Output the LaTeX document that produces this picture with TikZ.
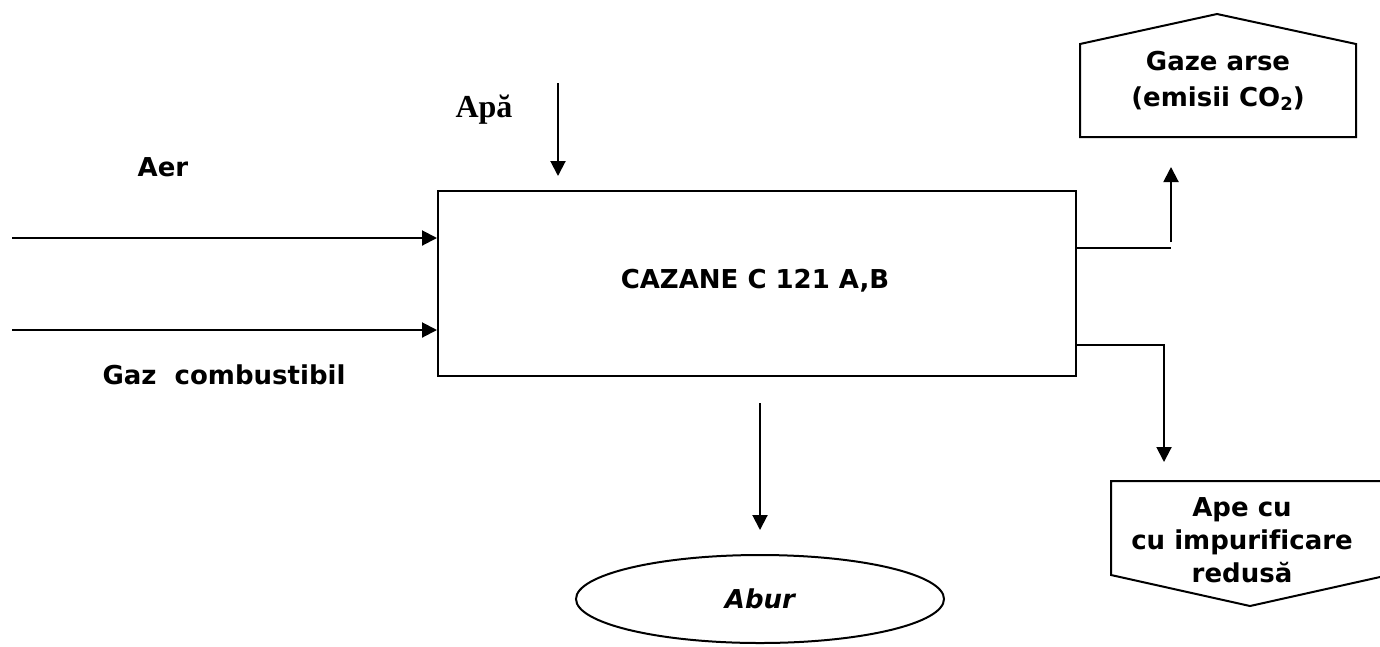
\documentclass[tikz,border=0pt]{standalone}
\usepackage{fontspec}
\setmainfont{DejaVu Sans}[Ligatures=NoCommon]
\newfontfamily\apafont{Liberation Serif}
\usetikzlibrary{arrows.meta,shapes.geometric}

\begin{document}
\begin{tikzpicture}[x=1pt,y=-1pt,line width=2pt,
  flow/.style={-{Triangle[length=15pt,width=15pt]}},
  lbl/.style={font=\fontsize{26}{33}\selectfont\bfseries,inner sep=0pt,align=center},
  unit/.style={draw,minimum width=638pt,minimum height=185pt,anchor=north west,inner sep=0pt},
  outshape/.style={draw,line join=miter}]
\useasboundingbox (0,0) rectangle (1380,646);

% boiler block
\node[unit] (caz) at (437,190) {};
\node[lbl] (cazlbl) at (755,281) {CAZANE C 121 A,B};

% inputs
\node[lbl] (aer) at (163,167) {Aer};
\node[lbl] (gaz) at (224,375) {Gaz\ \ combustibil};
\node[inner sep=0pt,font=\apafont\fontsize{32}{34}\selectfont\bfseries] (apa) at (484,110) {Apă};
\coordinate (aerin) at (12,238);
\coordinate (gazin) at (12,330);
\coordinate (apain) at (558,83);
\coordinate (apatip) at (558,176);
\draw[flow] (aerin) -- (aerin -| caz.west);
\draw[flow] (gazin) -- (gazin -| caz.west);
\draw[flow] (apain) -- (apatip);

% flue gases
\coordinate (g1) at (1077,248);
\coordinate (g2) at (1171,248);
\coordinate (g3) at (1171,242);
\coordinate (g4) at (1171,167);
\draw (g1) -- (g2);
\draw[flow] (g3) -- (g4);
\draw[outshape] (1080,137) -- (1080,44) -- (1217,14) -- (1356,44) -- (1356,137) -- cycle;
\node[lbl,font=\fontsize{26}{36}\selectfont\bfseries] (gaze) at (1218,81)
  {Gaze arse\\(emisii CO\raisebox{-0.22ex}{\fontsize{18}{18}\selectfont 2})};

% waste water
\coordinate (w1) at (caz.east |- 0,345);
\coordinate (w2) at (1164,345);
\coordinate (w3) at (1164,462);
\draw[flow] (w1) -- (w2) -- (w3);
\draw[outshape] (1111,481) -- (1389,481) -- (1389,575) -- (1250,606) -- (1111,575) -- cycle;
\node[lbl] (ape) at (1242,540) {Ape cu\\cu impurificare\\redusă};

% steam
\node[draw,ellipse,minimum width=368pt,minimum height=88pt,inner sep=0pt] (abur) at (760,599)
  {\fontsize{26}{30}\selectfont\bfseries\itshape Abur};
\coordinate (s1) at (760,403);
\coordinate (s2) at (760,530);
\draw[flow] (s1) -- (s2);
\end{tikzpicture}
\end{document}
